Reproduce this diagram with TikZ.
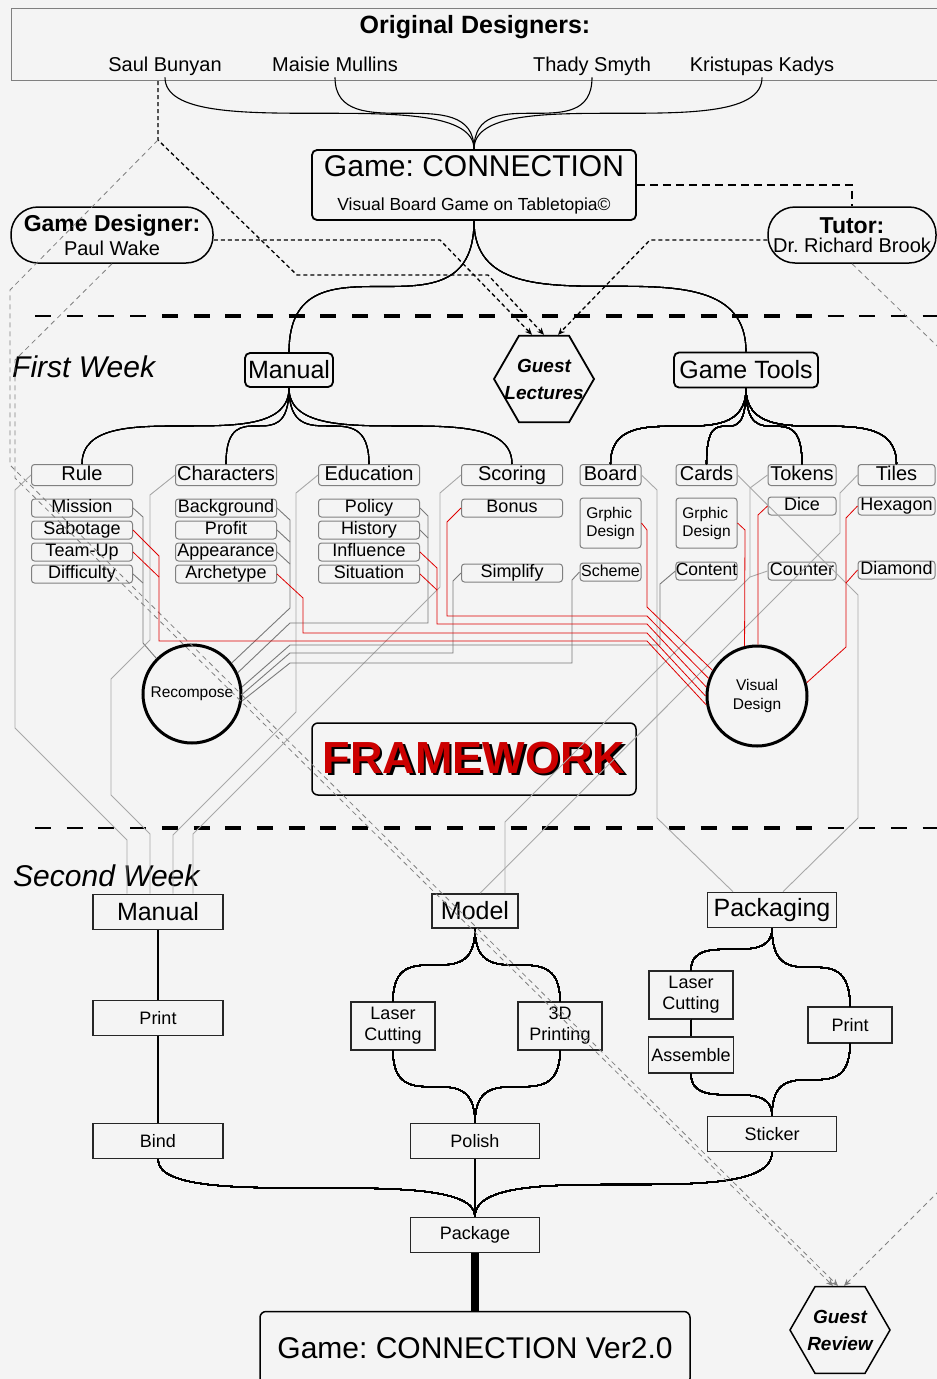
\documentclass[tikz,border=0pt]{standalone}
\usepackage{fontspec}
\setmainfont{Liberation Sans}
\usetikzlibrary{arrows.meta,shapes.geometric,positioning}
\definecolor{bg}{HTML}{F4F4F4}
\definecolor{netgray}{HTML}{7A7A7A}
\definecolor{netlite}{HTML}{A8A8A8}
\definecolor{netred}{HTML}{E00000}
\definecolor{fwred}{HTML}{CC0000}
\newcommand{\fsz}[2]{\fontsize{#1}{#2}\selectfont}
\newcommand{\brlink}[2]{\draw[lnk] (#1) .. controls (#1 |- #2) and (#2 |- #1) .. (#2);}
\frenchspacing

\begin{document}
\begin{tikzpicture}[x=1pt,y=-1pt,
    every node/.style={inner sep=0pt},
    lnk/.style={line width=1.1pt},
    bigbox/.style={draw, line width=1.8pt, rounded corners=5pt, font=\fsz{25}{25}},
    hdbox/.style={draw=gray, line width=1pt, rounded corners=3pt, minimum height=21pt, text height=14pt, text depth=4pt, font=\fsz{20}{20}},
    subbox/.style={draw=gray, line width=1pt, rounded corners=3pt, minimum height=18pt, text height=13pt, text depth=3.5pt, font=\fsz{18}{18}},
    wkbox/.style={draw=black!85, line width=1.6pt, align=center, font=\fsz{18}{21}},
    pillbox/.style={draw, line width=1.5pt, rounded corners=27pt, minimum height=56pt, align=center},
    hexa/.style={regular polygon, regular polygon sides=6, draw, line width=1.8pt, minimum size=100pt, inner sep=-14pt, align=center, font=\fsz{19}{27}\bfseries\itshape},
    hub/.style={circle, draw, line width=3pt, minimum size=98pt, align=center, font=\fsz{15.5}{19}},
    netd/.style={draw=netgray, line width=0.9pt},
    netl/.style={draw=netlite, line width=0.9pt},
    netr/.style={draw=netred, line width=0.8pt},
    dsh/.style={line width=1.3pt, dash pattern=on 4pt off 3pt},
    gdsh/.style={draw=gray, line width=0.8pt, dash pattern=on 5pt off 4pt},
    arr/.style={-{Stealth[length=7pt,width=6pt]}},
  ]
\useasboundingbox (0,0) rectangle (937,1379);
\fill[bg] (0,0) rectangle (937,1379);

% week separators
\foreach \yy in {316,828}{
  \foreach \i [evaluate=\i as \xa using {35+31.7*\i},
    evaluate=\i as \lw using {1.2+3.6*(1-((\xa-475)/470)*((\xa-475)/470))}] in {0,...,28}
    \draw[line width=\lw pt] (\xa,\yy) -- ++(16,0);
}

% designers
\node[draw=gray, line width=1.2pt, anchor=north west, minimum width=950pt, minimum height=72pt] (orig) at (11,8) {};
\node[font=\fsz{25}{25}\bfseries] (origt) at (475,27) {Original Designers:};
\foreach \nm/\x/\t in {saul/165/Saul Bunyan, maisie/335/Maisie Mullins, thady/592/Thady Smyth, kris/762/Kristupas Kadys}
  \node[font=\fsz{20}{20}, text height=14.5pt, text depth=4pt, inner sep=2pt] (\nm) at (\x,66) {\t};

\node[bigbox, minimum width=324pt, minimum height=70pt, align=center] (game) at (474,185)
  {\fsz{30}{30}Game: CONNECTION\\[9pt]\fsz{17.5}{18}Visual Board Game on Tabletopia©};
\node[pillbox, minimum width=202pt] (gd) at (112,235) {\fsz{23}{23}\bfseries Game Designer:\\[4pt]\fsz{20}{20}Paul Wake};
\node[pillbox, minimum width=168pt] (tutor) at (852,235) {\fsz{23}{23}\bfseries Tutor:\\[3pt]\fsz{20}{20}Dr. Richard Brook};
\node[hexa] (gl) at (544,379) {Guest\\Lectures};

% first week
\node[anchor=west, font=\fsz{30}{30}\itshape] (wk1) at (12,367) {First Week};
\node[bigbox, minimum width=88pt, minimum height=34pt] (man1) at (289,370) {Manual};
\node[bigbox, minimum width=144pt, minimum height=35pt] (tools) at (746,370) {Game Tools};

\foreach \nm/\x/\t in {rule/82/Rule, chars/226/Characters, edu/369/Education, score/512/Scoring}
  \node[hdbox, minimum width=101pt] (\nm) at (\x,475) {\t};
\node[hdbox, minimum width=61pt] (board) at (610.5,475) {Board};
\node[hdbox, minimum width=61pt] (cards) at (706.5,475) {Cards};
\node[hdbox, minimum width=68pt] (tokens) at (802,475) {Tokens};
\node[hdbox, minimum width=77pt] (tiles) at (896.5,475) {Tiles};

\foreach \nm/\t [count=\k] in {mission/Mission, sabotage/Sabotage, teamup/Team-Up, difficulty/Difficulty}
  \node[subbox, minimum width=101pt] (\nm) at (82,486+22*\k) {\t};
\foreach \nm/\t [count=\k] in {background/Background, profit/Profit, appearance/Appearance, archetype/Archetype}
  \node[subbox, minimum width=101pt] (\nm) at (226,486+22*\k) {\t};
\foreach \nm/\t [count=\k] in {policy/Policy, history/History, influence/Influence, situation/Situation}
  \node[subbox, minimum width=101pt] (\nm) at (369,486+22*\k) {\t};
\node[subbox, minimum width=101pt] (bonus) at (512,508) {Bonus};
\node[subbox, minimum width=101pt] (simplify) at (512,573) {Simplify};
\node[subbox, minimum width=61pt, minimum height=50pt, text height=, text depth=, align=left, font=\fsz{15.5}{18}] (bgd) at (610.5,523) {Grphic\\Design};
\node[subbox, minimum width=61pt, font=\fsz{16}{16}] (scheme) at (610.5,572) {Scheme};
\node[subbox, minimum width=61pt, minimum height=50pt, text height=, text depth=, align=left, font=\fsz{15.5}{18}] (cgd) at (706.5,523) {Grphic\\Design};
\node[subbox, minimum width=61pt, font=\fsz{17.5}{17.5}] (content) at (706.5,571) {Content};
\node[subbox, minimum width=68pt] (dice) at (802,506) {Dice};
\node[subbox, minimum width=68pt] (counter) at (802,571) {Counter};
\node[subbox, minimum width=77pt] (hexagon) at (896.5,506) {Hexagon};
\node[subbox, minimum width=77pt] (diamond) at (896.5,570) {Diamond};

\node[hub] (rec) at (192,694) {Recompose};
\node[hub, minimum size=100pt] (vd) at (757,696) {Visual\\Design};
\node[draw, line width=1.5pt, rounded corners=6pt, minimum width=324pt, minimum height=72pt] (fw) at (474,759)
  {\fsz{45}{45}\bfseries\makebox[0pt][l]{\hspace{2.5pt}\raisebox{-2.5pt}{FRAMEWORK}}\textcolor{fwred}{FRAMEWORK}};

% second week
\node[anchor=west, font=\fsz{30}{30}\itshape] (wk2) at (13,876) {Second Week};
\node[wkbox, minimum width=130pt, minimum height=35pt, font=\fsz{25}{25}] (man2) at (158,912) {Manual};
\node[wkbox, minimum width=130pt, minimum height=35pt] (mprint) at (158,1018) {Print};
\node[wkbox, minimum width=130pt, minimum height=35pt] (bind) at (158,1141) {Bind};
\node[wkbox, minimum width=86pt, minimum height=34pt, font=\fsz{25}{25}] (model) at (475,911) {Model};
\node[wkbox, minimum width=84pt, minimum height=48pt] (mlaser) at (393,1026) {Laser\\Cutting};
\node[wkbox, minimum width=84pt, minimum height=48pt] (mprint3d) at (560,1026) {3D\\Printing};
\node[wkbox, minimum width=129pt, minimum height=35pt] (polish) at (475,1141) {Polish};
\node[wkbox, minimum width=129pt, minimum height=35pt, font=\fsz{25}{25}] (pkg) at (772,910) {Packaging};
\node[wkbox, minimum width=84pt, minimum height=48pt] (plaser) at (691,995) {Laser\\Cutting};
\node[wkbox, minimum width=85pt, minimum height=36pt] (assemble) at (691,1055) {Assemble};
\node[wkbox, minimum width=84pt, minimum height=36pt] (pprint) at (850,1025) {Print};
\node[wkbox, minimum width=129pt, minimum height=35pt] (sticker) at (772,1134) {Sticker};
\node[wkbox, minimum width=129pt, minimum height=35pt] (package) at (475,1235) {Package};
\node[draw, line width=1.5pt, rounded corners=6pt, minimum width=430pt, minimum height=73pt, font=\fsz{30}{30}] (final) at (475,1348) {Game: CONNECTION Ver2.0};
\node[hexa, line width=1.5pt] (gr) at (840,1330) {Guest\\Review};

% tree links
\foreach \nm in {saul,maisie,thady,kris} \brlink{\nm.south}{game.north}
\brlink{game.south}{man1.north}
\brlink{game.south}{tools.north}
\foreach \nm in {rule,chars,edu,score} \brlink{man1.south}{\nm.north}
\foreach \nm in {board,cards,tokens,tiles} \brlink{tools.south}{\nm.north}
\brlink{model.south}{mlaser.north}
\brlink{model.south}{mprint3d.north}
\brlink{mlaser.south}{polish.north}
\brlink{mprint3d.south}{polish.north}
\brlink{pkg.south}{plaser.north}
\brlink{pkg.south}{pprint.north}
\brlink{assemble.south}{sticker.north}
\brlink{pprint.south}{sticker.north}
\brlink{bind.south}{package.north}
\brlink{sticker.south}{package.north}
\draw[lnk] (man2) -- (mprint) (mprint) -- (bind) (plaser) -- (assemble) (polish) -- (package);
\draw[line width=8pt] (package) -- (final);

% lectures and reviews
\coordinate (sb) at (158,140);
\draw[dsh,arr] (orig.south -| sb) -- (sb) -- (297,275) -- (488,275) -- (gl.north);
\draw[dsh,arr] ([yshift=-5pt]gd.east) -- (440,240) -- ([xshift=-12pt]gl.north);
\draw[dsh,arr] ([yshift=-5pt]tutor.west) -- (650,240) -- ([xshift=14pt]gl.north);
\draw[dsh, dash pattern=on 8pt off 5pt] (game.east) -| (tutor.north);
\draw[gdsh,arr] (sb) -- (10,290) -- (10,465) -- ([xshift=-2pt]gr.north);
\draw[gdsh,arr] (gd.south) -- (15,360) -- (15,478) -- ([xshift=-7pt]gr.north);
\draw[gdsh,arr] (tutor.south) -- (960,368) -- (960,1170) -- ([xshift=4pt]gr.north);

% framework network
\draw[netl] (rule.west) -- (15,490) -- (15,728) -- (127,840) -- ([xshift=-31pt]man2.north);
\draw[netd] (mission.east) -- (143,517) -- (143,643) -- (rec.135);
\draw[netd] (difficulty.east) -- (143,583);
\draw[netl] (chars.west) -- (150,495) -- (150,640) -- (111,679) -- (111,795) -- (150,834) -- ([xshift=-8pt]man2.north);
\draw[netd] (background.east) -- (290,520) -- (290,608) -- (rec.38);
\draw[netd] (profit.east) -- (290,542);
\draw[netd] (appearance.east) -- (290,564);
\draw[netl] (edu.west) -- (296,493) -- (296,712) -- (173,835) -- ([xshift=15pt]man2.north);
\draw[netd] (policy.east) -- (428,516) -- (428,623) -- (290,623) -- (rec.25);
\draw[netd] (history.east) -- (428,538);
\draw[netl] (score.west) -- (440,493) -- (440,587) -- (193,834) -- ([xshift=35pt]man2.north);
\draw[netd] (simplify.west) -- (453,581) -- (453,653) -- (290,653) -- (rec.0);
\draw[netd] (scheme.west) -- (572,580) -- (572,663) -- (290,663) -- (rec.-8);
\draw[netd] (content.west) -- (660,584) -- (660,645) -- (290,645) -- (rec.8);
\draw[netl] (board.east) -- (657,490) -- (657,818) -- ([xshift=-39pt]pkg.north);
\draw[netl] (cards.east) -- (858,595) -- (858,818) -- ([xshift=11pt]pkg.north);
\coordinate (tk) at (750,577);
\draw[netl] (tokens.west) -- (750,488) -- (tk) -- (505,822) -- ([xshift=30pt]model.north);
\draw[netl] (counter.west) -- (tk);
\draw[netl] (tiles.west) -- (840,493) -- (840,533) -- ([xshift=5pt]model.north);

\draw[netr] (sabotage.east) -- (159,556) -- (159,641) -- (647,641) -- (vd.190);
\draw[netr] (teamup.east) -- (159,577);
\draw[netr] (archetype.east) -- (303,598) -- (303,633) -- (647,633) -- (vd.180);
\draw[netr] (influence.east) -- (437,568) -- (437,624) -- (647,624) -- (vd.170);
\draw[netr] (situation.east) -- (437,590);
\draw[netr] (bonus.west) -- (447,522) -- (447,616) -- (647,616) -- (vd.160);
\draw[netr] (bgd.east) -- (647,530) -- (647,607) -- (vd.150);
\draw[netr] (cgd.east) -- (745,530) -- (vd.104);
\draw[netr] (dice.west) -- (758,515) -- (vd.89);
\draw[netr] (hexagon.west) -- (846,518) -- (846,647) -- (vd.15);
\draw[netr] (diamond.west) -- (846,583);
\end{tikzpicture}
\end{document}
